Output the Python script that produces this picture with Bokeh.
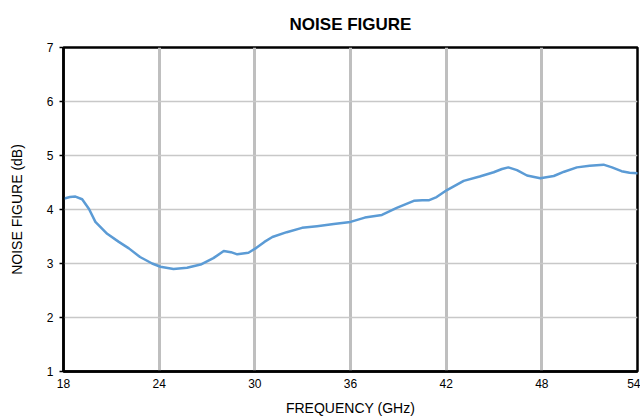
from bokeh.plotting import figure
from bokeh.models import Range1d, FixedTicker
from bokeh.embed import file_html
from bokeh.resources import INLINE

freq_ghz = [18.0, 18.4, 18.75, 19.17, 19.6, 20.0, 20.74, 21.47, 22.1, 22.8, 23.56, 24.08,
            24.9, 25.75, 26.6, 27.4, 28.05, 28.5, 28.9, 29.6, 30.1, 30.6, 31.1, 32.0,
            32.96, 33.9, 34.95, 36.0, 36.9, 37.97, 38.9, 39.97, 40.5, 40.9, 41.4, 42.05,
            43.1, 44.1, 44.98, 45.5, 45.9, 46.44, 47.07, 47.9, 48.75, 49.4, 50.2, 51.0,
            51.87, 52.4, 53.0, 53.5, 54.0]
noise_figure_db = [4.20, 4.23, 4.24, 4.19, 4.01, 3.77, 3.55, 3.40, 3.28, 3.12, 3.00, 2.94,
                   2.90, 2.92, 2.98, 3.10, 3.23, 3.21, 3.17, 3.20, 3.29, 3.40, 3.49, 3.58,
                   3.66, 3.69, 3.73, 3.77, 3.85, 3.90, 4.03, 4.16, 4.17, 4.17, 4.23, 4.36,
                   4.53, 4.61, 4.69, 4.75, 4.78, 4.73, 4.63, 4.58, 4.62, 4.70, 4.78, 4.81,
                   4.83, 4.78, 4.71, 4.68, 4.67]
x_ticks = [18, 24, 30, 36, 42, 48, 54]
y_ticks = [1, 2, 3, 4, 5, 6, 7]

FONT = "Liberation Sans"

p = figure(width=640, height=418, output_backend="svg", toolbar_location=None,
           x_range=Range1d(18, 54), y_range=Range1d(1, 7))
p.min_border_left = 63
p.min_border_right = 3
p.min_border_top = 47
p.min_border_bottom = 10

p.title.text = "NOISE FIGURE"
p.title.align = "center"
p.title.vertical_align = "top"
p.title.text_font = FONT
p.title.text_font_size = "17px"
p.title.text_font_style = "bold"
p.title.text_color = "black"
p.title.standoff = 24

p.outline_line_color = "black"
p.outline_line_width = 2.5
p.outline_line_alpha = 1.0

p.xaxis.ticker = FixedTicker(ticks=x_ticks)
p.yaxis.ticker = FixedTicker(ticks=y_ticks)
p.xaxis.axis_label = "FREQUENCY (GHz)"
p.yaxis.axis_label = "NOISE FIGURE (dB)"
for ax in (p.xaxis, p.yaxis):
    ax.axis_line_color = "black"
    ax.axis_line_width = 2.5
    ax.major_label_text_font = FONT
    ax.major_label_text_font_size = "12px"
    ax.major_label_text_color = "black"
    ax.axis_label_text_font = FONT
    ax.axis_label_text_font_size = "14px"
    ax.axis_label_text_font_style = "normal"
    ax.axis_label_text_color = "black"
    ax.minor_tick_line_color = None
    ax.major_tick_in = 0
p.xaxis.major_tick_out = 0
p.xaxis.major_label_standoff = 7
p.xaxis.axis_label_standoff = 9
p.yaxis.major_tick_out = 4
p.yaxis.major_tick_line_color = "black"
p.yaxis.major_tick_line_width = 1.5
p.yaxis.major_label_standoff = 6
p.yaxis.axis_label_standoff = 19

p.xgrid.grid_line_color = "#bfbfbf"
p.xgrid.grid_line_width = 3
p.ygrid.grid_line_color = "#c8c8c8"
p.ygrid.grid_line_width = 1.5

p.line(freq_ghz, noise_figure_db, line_color="#5b9bd5", line_width=2.5,
       line_join="round", line_cap="round")

open("out.html", "w").write(file_html(p, INLINE))
